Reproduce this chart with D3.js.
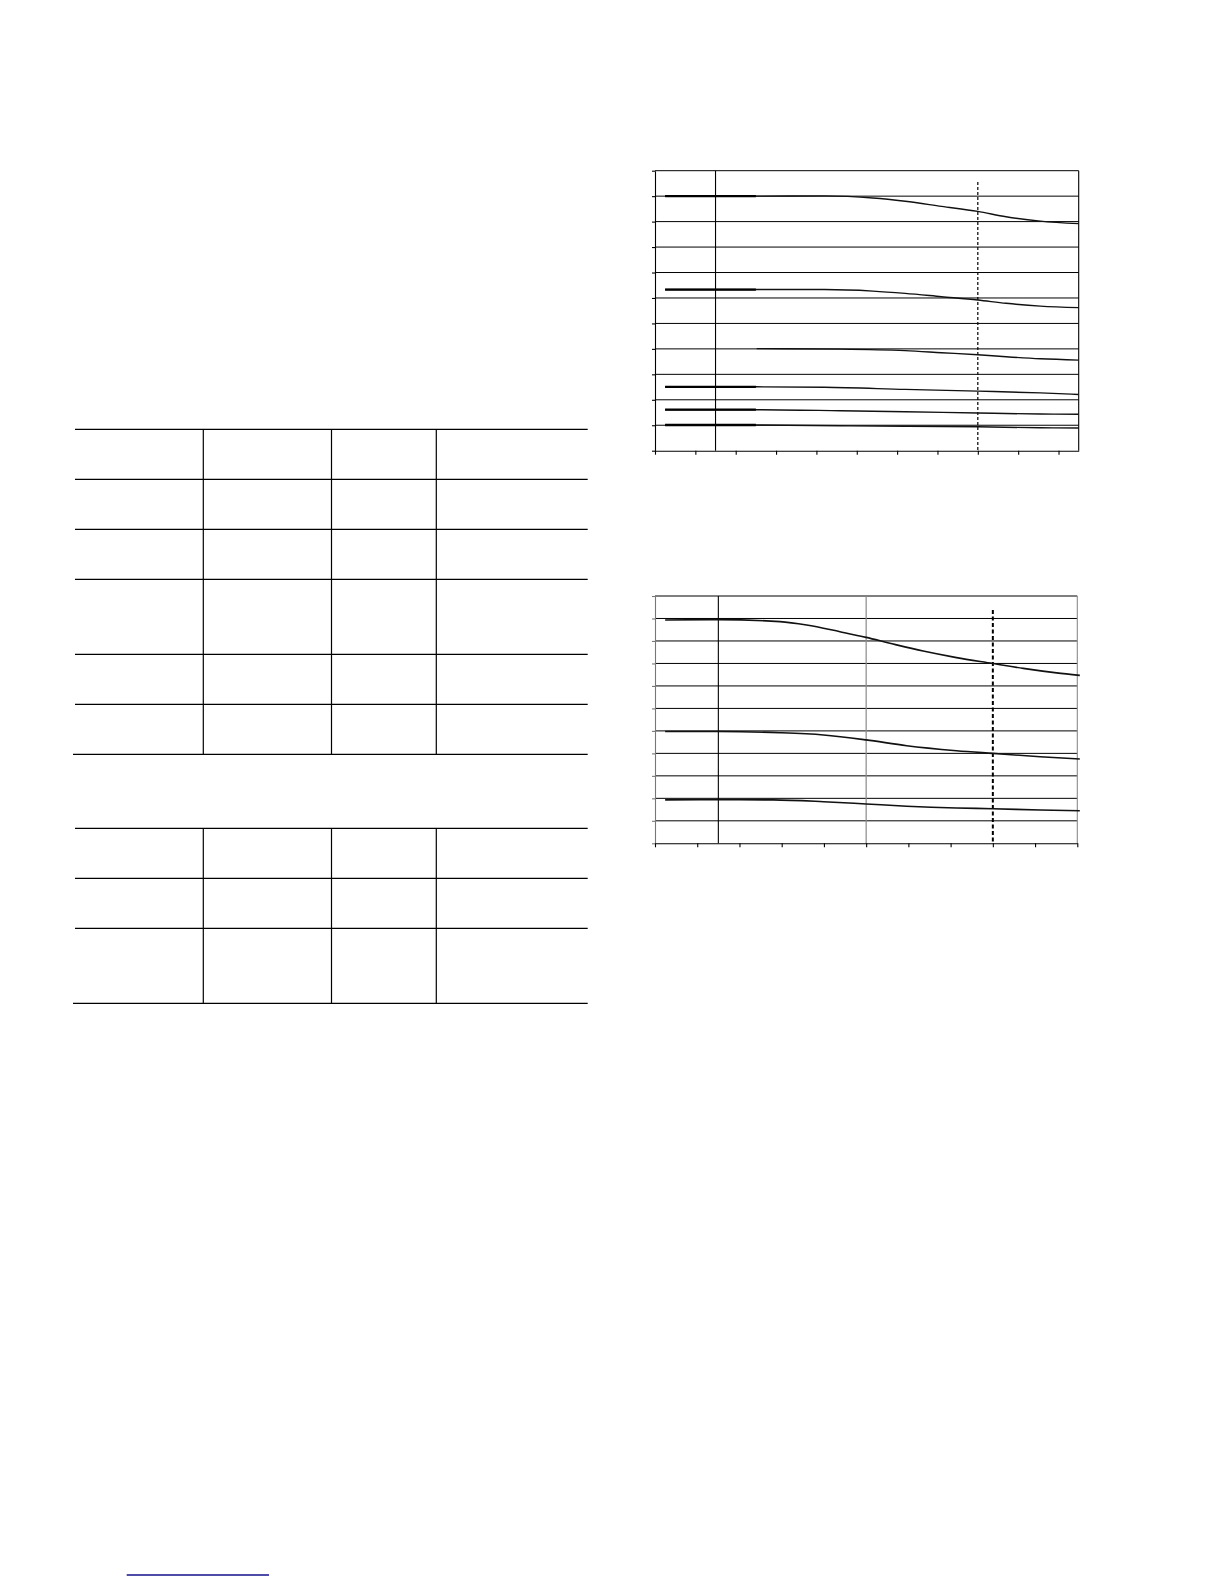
<!DOCTYPE html>
<html>
<head>
<meta charset="utf-8">
<script src="https://cdn.jsdelivr.net/npm/d3@7"></script>
<style>
  body { margin: 0; background: #fff; }
  svg { display: block; }
</style>
</head>
<body>
<svg id="page" width="1224" height="1584"></svg>
<script>
// ===============================
// Dades
// ===============================
// gràfic superior: x en unitats de graella (0..10.5), y en unitats de graella (0..11)
const topXTicks = [0, 1, 2, 3, 4, 5, 6, 7, 8, 9, 10];
const topYTicks = [0, 1, 2, 3, 4, 5, 6, 7, 8, 9, 10, 11];
const topMarkerX = 8;
const topDividerX = 1.5;

const topCurve1 = [[0.25, 10.0], [2.5, 10.0], [4.2, 10.01], [5.4, 9.93], [6.2, 9.8], [7.1, 9.6], [8.0, 9.4], [8.7, 9.19], [9.55, 9.02], [10.5, 8.92]];
const topCurve2 = [[0.25, 6.33], [2.5, 6.33], [4.2, 6.33], [5.4, 6.27], [6.2, 6.18], [7.1, 6.05], [8.0, 5.92], [8.7, 5.79], [9.55, 5.68], [10.5, 5.62]];
const topCurve3 = [[2.52, 4.01], [4.6, 3.99], [6.2, 3.93], [7.1, 3.85], [8.0, 3.77], [8.7, 3.69], [9.55, 3.61], [10.5, 3.56]];
const topCurve4 = [[0.25, 2.51], [2.5, 2.51], [4.2, 2.49], [6.2, 2.41], [8.0, 2.34], [9.55, 2.27], [10.5, 2.21]];
const topCurve5 = [[0.25, 1.61], [2.5, 1.61], [4.6, 1.57], [6.2, 1.53], [8.0, 1.48], [9.55, 1.44], [10.5, 1.43]];
const topCurve6 = [[0.25, 1.01], [2.5, 1.01], [4.6, 0.98], [6.2, 0.96], [8.0, 0.94], [9.55, 0.9], [10.5, 0.89]];
const topCurves = [topCurve1, topCurve2, topCurve3, topCurve4, topCurve5, topCurve6];

// gràfic inferior
const botXTicks = [0, 1, 2, 3, 4, 5, 6, 7, 8, 9, 10];
const botYTicks = [0, 1, 2, 3, 4, 5, 6, 7, 8, 9, 10, 11];
const botMarkerX = 8;
const botDividerX = 1.5;
const botMidX = 5;

const botCurveA = [[0.24, 9.93], [1.5, 9.95], [2.96, 9.86], [3.59, 9.71], [4.38, 9.41], [5.0, 9.16], [5.56, 8.9], [6.35, 8.55], [7.14, 8.26], [8.0, 8.0], [8.72, 7.78], [9.51, 7.58], [10.06, 7.47]];
const botCurveB = [[0.24, 4.97], [1.5, 4.97], [2.96, 4.92], [3.99, 4.82], [5.0, 4.6], [5.96, 4.34], [7.14, 4.12], [8.0, 4.0], [9.12, 3.85], [10.06, 3.75]];
const botCurveC = [[0.24, 1.93], [1.5, 1.94], [2.8, 1.93], [3.99, 1.85], [5.0, 1.75], [5.96, 1.65], [7.14, 1.57], [8.0, 1.54], [9.12, 1.48], [10.06, 1.45]];
const botCurves = [botCurveA, botCurveB, botCurveC];

// taules buides: línies de text per fila
const table1RowLines = [2, 2, 2, 3, 2, 2];
const table2RowLines = [2, 2, 3];


const svg = d3.select("#page");

svg.append("rect")
  .attr("width", 1224)
  .attr("height", 1584)
  .attr("fill", "#fff");


// ===============================
// Taules
// ===============================
function drawTable(top, rowLines) {
  const left = 75;
  const right = 587.7;
  const lineH = 25;
  const cols = [203.3, 331.5, 436.3];

  const ys = [top];
  rowLines.forEach(n => ys.push(ys[ys.length - 1] + n * lineH));
  const bottom = ys[ys.length - 1];

  const g = svg.append("g").attr("class", "table");

  g.selectAll("line.row")
    .data(ys)
    .enter()
    .append("line")
    .attr("class", "row")
    .attr("x1", (d, i) => i === ys.length - 1 ? 73 : left)
    .attr("x2", right)
    .attr("y1", d => d)
    .attr("y2", d => d)
    .attr("stroke", "#000")
    .attr("stroke-width", 1.2);

  g.selectAll("line.col")
    .data(cols)
    .enter()
    .append("line")
    .attr("class", "col")
    .attr("x1", d => d)
    .attr("x2", d => d)
    .attr("y1", top)
    .attr("y2", bottom)
    .attr("stroke", "#000")
    .attr("stroke-width", 1.2);
}

drawTable(429.3, table1RowLines);
drawTable(828.3, table2RowLines);


// ===============================
// Gràfics
// ===============================
function drawChart(opts) {
  const x = d3.scaleLinear().domain(opts.xDomain).range([opts.left, opts.right]);
  const y = d3.scaleLinear().domain([0, 11]).range([opts.bottom, opts.top]);

  const g = svg.append("g");

  // graella horitzontal
  g.selectAll("line.grid")
    .data(opts.yTicks.filter(d => d > 0))
    .enter()
    .append("line")
    .attr("class", "grid")
    .attr("x1", opts.left)
    .attr("x2", opts.right)
    .attr("y1", d => y(d))
    .attr("y2", d => y(d))
    .attr("stroke", "#000")
    .attr("stroke-width", 1);

  // línia interior i vora dreta
  g.append("line")
    .attr("x1", x(opts.dividerX)).attr("x2", x(opts.dividerX))
    .attr("y1", opts.top).attr("y2", opts.bottom)
    .attr("stroke", "#000").attr("stroke-width", 1.1);

  if (opts.midX != null) {
    g.append("line")
      .attr("x1", x(opts.midX)).attr("x2", x(opts.midX))
      .attr("y1", opts.top).attr("y2", opts.bottom)
      .attr("stroke", "#8a8a8a").attr("stroke-width", 1.2);
  }

  g.append("line")
    .attr("x1", opts.right).attr("x2", opts.right)
    .attr("y1", opts.top).attr("y2", opts.bottom)
    .attr("stroke", opts.borderColor).attr("stroke-width", 1.1);

  // eixos
  g.append("g")
    .attr("transform", `translate(${opts.left},0)`)
    .call(d3.axisLeft(y).tickValues(opts.yTicks).tickSize(3).tickSizeOuter(0).tickFormat(""))
    .call(a => a.selectAll("path, line").attr("stroke", opts.axisColor).attr("stroke-width", 1.1));

  g.append("g")
    .attr("transform", `translate(0,${opts.bottom})`)
    .call(d3.axisBottom(x).tickValues(opts.xTicks).tickSize(4).tickSizeOuter(0).tickFormat(""))
    .call(a => a.selectAll("path, line").attr("stroke", "#000").attr("stroke-width", 1.1));

  // línia discontínua
  g.append("line")
    .attr("x1", x(opts.markerX)).attr("x2", x(opts.markerX))
    .attr("y1", opts.dashTop).attr("y2", opts.bottom)
    .attr("stroke", "#000")
    .attr("stroke-width", opts.dashWidth)
    .attr("stroke-dasharray", opts.dashArray);

  // corbes
  const line = d3.line()
    .x(d => x(d[0]))
    .y(d => y(d[1]))
    .curve(d3.curveMonotoneX);

  g.selectAll("path.curve")
    .data(opts.curves)
    .enter()
    .append("path")
    .attr("class", "curve")
    .attr("d", line)
    .attr("fill", "none")
    .attr("stroke", "#111")
    .attr("stroke-width", opts.curveWidth);

  // tram inicial més gruixut
  if (opts.boldStart) {
    g.selectAll("path.start")
      .data(opts.curves.filter(c => c[0][0] < 1))
      .enter()
      .append("path")
      .attr("class", "start")
      .attr("d", c => line(c.slice(0, 2)))
      .attr("fill", "none")
      .attr("stroke", "#000")
      .attr("stroke-width", 2.3);
  }
}

drawChart({
  left: 655, right: 1078.7, top: 170.7, bottom: 450.7,
  xDomain: [0, 10.5],
  xTicks: topXTicks, yTicks: topYTicks,
  dividerX: topDividerX, midX: null,
  markerX: topMarkerX, dashTop: 182, dashWidth: 1.2, dashArray: "3,2",
  curves: topCurves, curveWidth: 1.4, boldStart: true,
  borderColor: "#000", axisColor: "#000"
});

drawChart({
  left: 655, right: 1077.3, top: 596, bottom: 843.3,
  xDomain: [0, 10],
  xTicks: botXTicks, yTicks: botYTicks,
  dividerX: botDividerX, midX: botMidX,
  markerX: botMarkerX, dashTop: 610, dashWidth: 2, dashArray: "4,2.5",
  curves: botCurves, curveWidth: 1.6, boldStart: false,
  borderColor: "#8a8a8a", axisColor: "#777"
});


// ===============================
// Enllaç peu de pàgina
// ===============================
svg.append("line")
  .attr("x1", 126.7)
  .attr("x2", 269)
  .attr("y1", 1575)
  .attr("y2", 1575)
  .attr("stroke", "#12128c")
  .attr("stroke-width", 1.6);
</script>
</body>
</html>
